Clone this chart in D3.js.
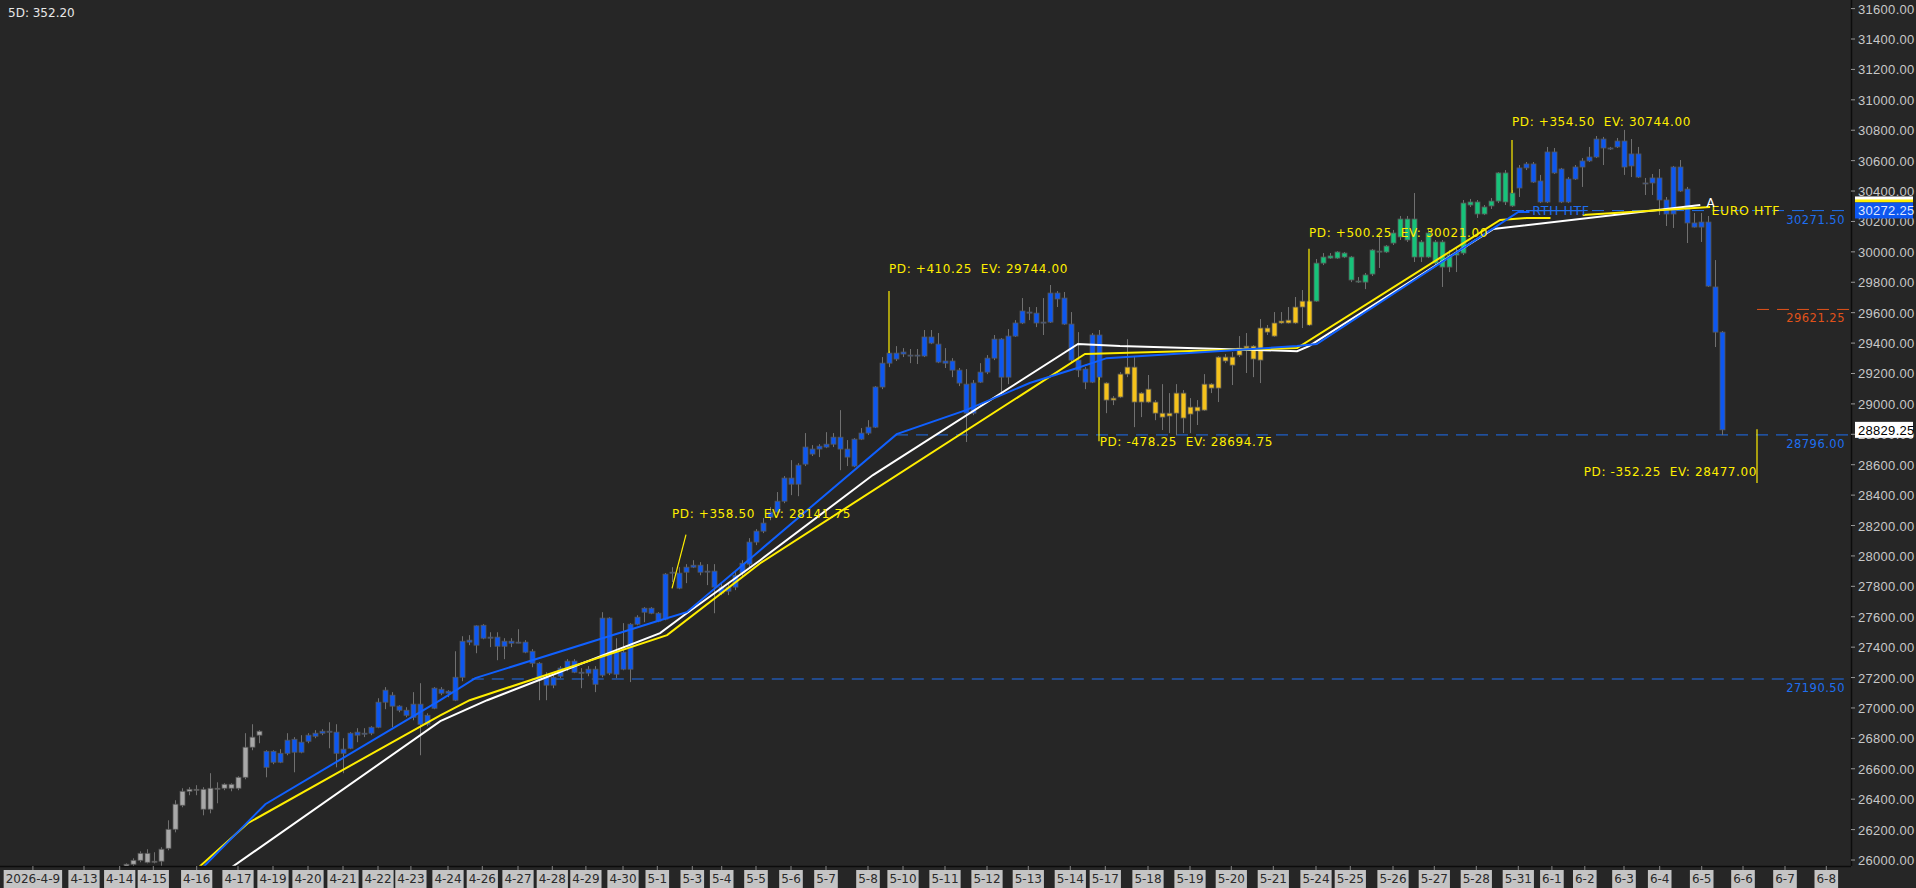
<!DOCTYPE html>
<html><head><meta charset="utf-8">
<script src="https://cdn.jsdelivr.net/npm/d3@7/dist/d3.min.js"></script>
<style>html,body{margin:0;padding:0;background:#262626;overflow:hidden} text{white-space:pre}</style>
</head><body><svg id="c" width="1916" height="888"></svg>
<script>
const high=[25978,26011,26057,26071,26051,26084,26261,26393,26472,26479,26492,26479,26571,26511,26505,26505,26551,26834,26893,26854,
26722,26722,26729,26834,26808,26821,26834,26854,26860,26906,26893,26801,26841,26867,26867,26880,27064,27137,27104,27018,
27005,27104,27163,26965,27137,27137,27117,27373,27472,27479,27544,27551,27498,27498,27459,27459,27518,27446,27387,27301,
27235,27216,27275,27321,27321,27262,27275,27275,27630,27597,27459,27558,27558,27610,27663,27663,27630,27887,27926,27926,
27946,27972,27959,27946,27946,27821,27821,27893,27972,28117,28176,28249,28321,28420,28525,28630,28610,28808,28729,28735,
28814,28808,28959,28762,28775,28841,28893,29117,29308,29347,29380,29367,29361,29361,29486,29486,29466,29367,29301,29236,
29229,29157,29268,29321,29453,29433,29492,29551,29696,29637,29637,29696,29782,29742,29736,29604,29472,29242,29466,29486,
29143,29051,29209,29426,29308,29078,29190,29025,29130,29071,29130,29091,29038,29025,29196,29137,29315,29328,29341,29446,
29466,29387,29558,29519,29604,29604,29637,29703,29749,29683,29953,29992,29992,30005,29999,29973,29834,29861,30019,30111,
30045,30144,30236,30236,30387,30078,30157,30078,30078,30012,30025,30341,30348,30341,30308,30354,30525,30538,30407,30571,
30591,30591,30506,30690,30683,30552,30492,30571,30617,30690,30762,30756,30690,30749,30802,30742,30690,30486,30512,30545,
30361,30565,30604,30427,30256,30256,30236,29946,29479];
const open=[25972,25998,26044,26044,25992,26071,26202,26367,26452,26465,26465,26465,26472,26472,26498,26498,26544,26742,26808,26847,
26715,26715,26702,26788,26794,26775,26821,26834,26847,26847,26841,26729,26834,26841,26834,26873,27038,27117,27084,27012,
26985,27025,27025,26952,27130,27123,27110,27202,27439,27446,27540,27544,27466,27466,27439,27439,27433,27433,27373,27294,
27202,27202,27262,27308,27308,27235,27255,27255,27591,27591,27367,27367,27551,27597,27656,27656,27623,27880,27893,27887,
27926,27939,27939,27900,27900,27795,27795,27873,27952,28091,28163,28216,28288,28360,28512,28512,28597,28716,28703,28722,
28735,28781,28781,28703,28768,28808,28847,29111,29268,29334,29334,29341,29321,29321,29440,29440,29393,29282,29282,29222,
29130,29137,29209,29301,29426,29426,29446,29532,29611,29604,29597,29538,29729,29729,29696,29525,29288,29229,29453,29453,
29137,29038,29196,29242,29242,29071,29097,29012,28939,28939,29071,29071,28979,28979,29130,29130,29308,29308,29308,29367,
29380,29380,29499,29499,29532,29545,29551,29637,29676,29676,29926,29966,29973,29999,29992,29966,29808,29848,30012,30005,
30038,30124,30216,30216,30216,30065,30124,30065,30065,29979,29992,30321,30328,30328,30295,30334,30519,30519,30387,30552,
30578,30578,30466,30657,30657,30545,30479,30558,30598,30624,30742,30742,30683,30729,30729,30644,30644,30453,30486,30486,
30341,30558,30558,30413,30190,30196,30196,29769,29472];
const close=[25952,25972,25998,25985,25988,25992,26077,26202,26360,26452,26462,26334,26334,26469,26472,26472,26472,26544,26742,26821,
26610,26643,26643,26702,26709,26709,26781,26814,26834,26844,26702,26702,26735,26821,26831,26834,26873,27038,27012,26985,
26952,26939,26893,26893,26998,27097,27097,27051,27202,27433,27413,27459,27459,27406,27406,27426,27430,27367,27294,27183,
27150,27150,27209,27262,27235,27232,27229,27156,27216,27229,27222,27255,27255,27551,27630,27623,27571,27584,27887,27788,
27893,27926,27893,27897,27795,27755,27768,27795,27887,27946,28091,28163,28255,28288,28360,28472,28472,28604,28670,28703,
28716,28735,28703,28650,28591,28768,28808,28847,29111,29268,29295,29328,29318,29315,29315,29400,29275,29268,29222,29137,
28939,28939,29143,29209,29301,29176,29176,29446,29532,29597,29532,29535,29538,29690,29525,29288,29222,29143,29143,29176,
29025,29025,29045,29196,29012,29012,29012,28939,28913,28920,28939,28907,28933,28953,28959,29104,29104,29282,29255,29321,
29367,29295,29288,29472,29446,29532,29532,29532,29637,29519,29676,29926,29959,29959,29966,29815,29805,29801,29854,29999,
29999,30058,30098,30078,29966,29966,29966,29926,29900,29900,29979,29992,30308,30249,30249,30302,30334,30328,30302,30420,
30552,30459,30328,30328,30519,30328,30328,30479,30558,30598,30624,30683,30680,30690,30558,30565,30492,30450,30453,30341,
30249,30249,30400,30190,30163,30163,29775,29472,28829.25];
const low=[25946,25952,25985,25978,25978,25952,26064,26182,26347,26426,26426,26294,26307,26373,26459,26452,26459,26531,26722,26768,
26544,26630,26637,26689,26577,26702,26768,26801,26821,26735,26610,26571,26729,26775,26808,26821,26867,26992,26873,26972,
26939,26919,26689,26880,26992,27084,27071,27045,27176,27413,27360,27452,27400,27314,27321,27400,27426,27360,27268,27051,
27051,27130,27196,27242,27229,27130,27209,27104,27202,27216,27196,27248,27170,27544,27564,27617,27564,27577,27828,27781,
27821,27920,27873,27808,27623,27742,27742,27775,27867,27926,28071,28150,28235,28281,28347,28400,28393,28591,28657,28650,
28709,28716,28564,28591,28584,28762,28795,28841,29097,29242,29282,29308,29268,29262,29308,29393,29268,29236,29176,29117,
28749,28926,29137,29196,29288,29071,29130,29440,29525,29551,29505,29453,29532,29637,29519,29275,29176,29097,29137,29157,
28939,28992,29038,29176,28847,28913,29005,28893,28828,28808,28795,28808,28808,28861,28953,29071,29012,29268,29124,29308,
29203,29176,29137,29453,29440,29525,29528,29525,29499,29512,29670,29913,29953,29953,29959,29801,29795,29755,29841,29894,
29992,30045,30078,30065,29933,29933,29959,29913,29769,29867,29867,29979,30295,30223,30242,30282,30321,30308,30295,30361,
30538,30453,30321,30321,30512,30321,30321,30473,30427,30591,30617,30571,30670,30683,30506,30492,30486,30374,30374,30242,
30170,30157,30394,30058,30160,30065,29769,29374,28795];
// session colour runs: first candle index (1-based) of each session
const sessionStart=[1,21,141,171,200];
const sessionColor=['#a8a8a8','#0d57f0','#f5c21b','#17c27a','#0d57f0'];
// date tick labels and their position in candle units
const dateLabels=['2026-4-9','4-13','4-14','4-15','4-16','4-17','4-19','4-20','4-21','4-22','4-23','4-24','4-26','4-27','4-28','4-29','4-30','5-1','5-3','5-4','5-5','5-6','5-7','5-8','5-10','5-11','5-12','5-13','5-14','5-17','5-18','5-19','5-20','5-21','5-24','5-25','5-26','5-27','5-28','5-31','6-1','6-2','6-3','6-4','6-5','6-6','6-7','6-8'];
const datePos=[-12.3,-5,0.1,4.9,11.1,17,22,27,32,37,41.7,47,51.9,57,61.9,66.7,72,76.9,81.9,86.1,91,96,101,107,112,118,124,129.9,135.9,140.9,147,153,158.9,164.9,171,175.9,182,187.9,193.9,199.9,204.7,209.4,215,220.1,226.1,232,238,243.9];
const priceTicks=d3.range(26000,31601,200);
// overlay lines [candle index, price]
const blueLine=[[12,25952],[20.9,26367],[45.9,27051],[50.9,27196],[77.3,27577],[81.1,27630],[91.6,28038],[111.1,28801],[121,28959],[130.1,29137],[136.9,29236],[141.1,29301],[168.3,29380],[171.1,29394],[199.9,30262],[201.5,30262]];
const whiteLine=[[16.1,25952],[45.9,26913],[52.6,27051],[77.3,27492],[81.1,27623],[91.6,27972],[107.7,28532],[137,29394],[143,29380],[168.3,29347],[170,29380],[196.3,30150],[225.9,30308]];
const yellowLine=[[11.4,25952],[18.4,26242],[45.9,26952],[50.1,27051],[78.3,27479],[91.6,27952],[138,29328],[143,29334],[168.3,29367],[197.3,30210],[201.1,30223],[204.5,30223]];
const yellowLine2=[[209.1,30242],[227.3,30295]];
const levels=[{p:30271.5,from:199,color:'#1e6ff0',label:'30271.50'},{p:29621.25,from:234,color:'#e0521a',label:'29621.25'},{p:28796,from:111,color:'#1e6ff0',label:'28796.00'},{p:27190.5,from:50.4,color:'#1e6ff0',label:'27190.50'}];
const pdNotes=[
 {t:'PD: +358.50  EV: 28141.75',i:79,p:28250,x1:81,p1:28140,x2:79,p2:27787,anchor:'start'},
 {t:'PD: +410.25  EV: 29744.00',i:110,p:29860,x1:110,p1:29743,x2:110,p2:29334,anchor:'start'},
 {t:'PD: -478.25  EV: 28694.75',i:140.1,p:28720,x1:140,p1:29176,x2:140,p2:28755,anchor:'start'},
 {t:'PD: +500.25  EV: 30021.00',i:170,p:30100,x1:170,p1:30020,x2:170,p2:29519,anchor:'start'},
 {t:'PD: +354.50  EV: 30744.00',i:199,p:30830,x1:199,p1:30735,x2:199,p2:30387,anchor:'start'},
 {t:'PD: -352.25  EV: 28477.00',i:234,p:28525,x1:234,p1:28834,x2:234,p2:28480,anchor:'end'}];

const svg=d3.select('#c');
const W=1916,H=888,axisX=1851,axisY=866;
const x=d3.scaleLinear().domain([1,229]).range([126,1722]);
const y=d3.scaleLinear().domain([26000,31600]).range([860,8.6]);
const font='DejaVu Sans';
const afont='Liberation Sans';
svg.append('rect').attr('width',W).attr('height',H).attr('fill','#262626');
const plot=svg.append('g');
plot.append('defs').append('clipPath').attr('id','cp').append('rect').attr('width',axisX).attr('height',axisY);
const g=plot.append('g').attr('clip-path','url(#cp)');

levels.forEach(l=>{
 g.append('line').attr('x1',x(l.from)).attr('x2',axisX).attr('y1',y(l.p)).attr('y2',y(l.p)).attr('stroke',l.color).attr('stroke-width',1).attr('stroke-dasharray','12,8');
 svg.append('text').attr('x',axisX-6).attr('y',y(l.p)+13).attr('text-anchor','end').attr('fill',l.color).attr('font-family',font).attr('font-size',11.5).attr('letter-spacing',0.5).text(l.label);
});

function colorOf(i){let c=sessionColor[0];sessionStart.forEach((s,k)=>{if(i>=s)c=sessionColor[k];});return c;}
const idx=d3.range(high.length);
g.selectAll('.w').data(idx).join('line').attr('x1',d=>x(d+1)+0.5).attr('x2',d=>x(d+1)+0.5).attr('y1',d=>y(high[d])).attr('y2',d=>y(low[d])).attr('stroke','#707070').attr('stroke-width',1);
g.selectAll('.b').data(idx).join('rect').attr('x',d=>x(d+1)-2).attr('width',5)
 .attr('y',d=>y(Math.max(open[d],close[d]))).attr('height',d=>Math.max(1,Math.abs(y(open[d])-y(close[d]))))
 .attr('fill',d=>colorOf(d+1)).attr('stroke','#585858').attr('stroke-width',0.8);

const ln=d3.line().x(d=>x(d[0])).y(d=>y(d[1]));
g.append('path').attr('d',ln(whiteLine)).attr('fill','none').attr('stroke','#ffffff').attr('stroke-width',2);
g.append('path').attr('d',ln(yellowLine)).attr('fill','none').attr('stroke','#ffee00').attr('stroke-width',2);
g.append('path').attr('d',ln(yellowLine2)).attr('fill','none').attr('stroke','#ffee00').attr('stroke-width',2);
g.append('path').attr('d',ln(blueLine)).attr('fill','none').attr('stroke','#1060ff').attr('stroke-width',2);

pdNotes.forEach(n=>{
 g.append('line').attr('x1',x(n.x1)).attr('x2',x(n.x2)).attr('y1',y(n.p1)).attr('y2',y(n.p2)).attr('stroke','#ffee00').attr('stroke-width',1.2);
 g.append('text').attr('x',x(n.i)).attr('y',y(n.p)).attr('text-anchor',n.anchor).attr('fill','#ffee00').attr('font-family',font).attr('font-size',12).attr('letter-spacing',0.6).text(n.t);
});
g.append('text').attr('x',x(201.9)).attr('y',y(30271.5)+4).attr('fill','#1e6ff0').attr('font-family',font).attr('font-size',12.5).attr('letter-spacing',0.6).text('RTH HTF');
g.append('line').attr('x1',x(201)).attr('x2',x(209)).attr('y1',y(30271.5)).attr('y2',y(30271.5)).attr('stroke','#1e6ff0').attr('stroke-width',1.2);
g.append('text').attr('x',x(227.5)).attr('y',y(30271.5)+4).attr('fill','#ffee00').attr('font-family',font).attr('font-size',12.5).attr('letter-spacing',0.6).text('EURO HTF');
g.append('text').attr('x',x(226.8)).attr('y',y(30300)+1).attr('fill','#ffffff').attr('font-family',font).attr('font-size',12).text('A');

svg.append('line').attr('x1',axisX+0.5).attr('x2',axisX+0.5).attr('y1',0).attr('y2',axisY).attr('stroke','#0c0c0c').attr('stroke-width',1.5);
const ra=svg.append('g');
priceTicks.forEach(p=>{
 ra.append('line').attr('x1',axisX).attr('x2',axisX+4).attr('y1',y(p)).attr('y2',y(p)).attr('stroke','#999');
 ra.append('text').attr('x',axisX+7).attr('y',y(p)+5).attr('fill','#c8c8c8').attr('font-family',afont).attr('font-size',13).attr('letter-spacing',0.3).text(p.toFixed(2));
});
const last=close[close.length-1];
svg.append('rect').attr('x',axisX+4).attr('y',y(last)-8).attr('width',58).attr('height',16).attr('fill','#ffffff');
svg.append('text').attr('x',axisX+7).attr('y',y(last)+5).attr('fill','#000').attr('font-family',afont).attr('font-size',13).attr('letter-spacing',0.3).text(last.toFixed(2));
const rthPrice=30272.25;
svg.append('rect').attr('x',axisX+4).attr('y',y(rthPrice)-14).attr('width',58).attr('height',4).attr('fill','#ffffff');
svg.append('rect').attr('x',axisX+4).attr('y',y(rthPrice)-11).attr('width',58).attr('height',3).attr('fill','#ffee00');
svg.append('rect').attr('x',axisX+4).attr('y',y(rthPrice)-8).attr('width',58).attr('height',16).attr('fill','#0d57f0');
svg.append('text').attr('x',axisX+7).attr('y',y(rthPrice)+5).attr('fill','#dfe6ff').attr('font-family',afont).attr('font-size',13).attr('letter-spacing',0.3).text(rthPrice.toFixed(2));

svg.append('rect').attr('x',0).attr('y',axisY).attr('width',axisX).attr('height',H-axisY).attr('fill','#262626');
svg.append('line').attr('x1',0).attr('x2',axisX).attr('y1',axisY+0.5).attr('y2',axisY+0.5).attr('stroke','#0c0c0c').attr('stroke-width',1.5);
dateLabels.forEach((t,k)=>{
 const cx=x(datePos[k]);
 svg.append('line').attr('x1',cx).attr('x2',cx).attr('y1',axisY).attr('y2',axisY+4).attr('stroke','#888');
 const tx=svg.append('text').attr('x',cx).attr('y',axisY+17).attr('text-anchor','middle').attr('fill','#2a2a2a').attr('font-family',font).attr('font-size',12).text(t);
 const bb=tx.node().getBBox();
 svg.insert('rect',()=>tx.node()).attr('x',bb.x-2).attr('y',axisY+4).attr('width',bb.width+4).attr('height',H-axisY-4).attr('fill','#c4c4c4');
});
svg.append('text').attr('x',8).attr('y',17).attr('fill','#e8e8e8').attr('font-family',font).attr('font-size',12).text('5D: 352.20');
</script></body></html>
